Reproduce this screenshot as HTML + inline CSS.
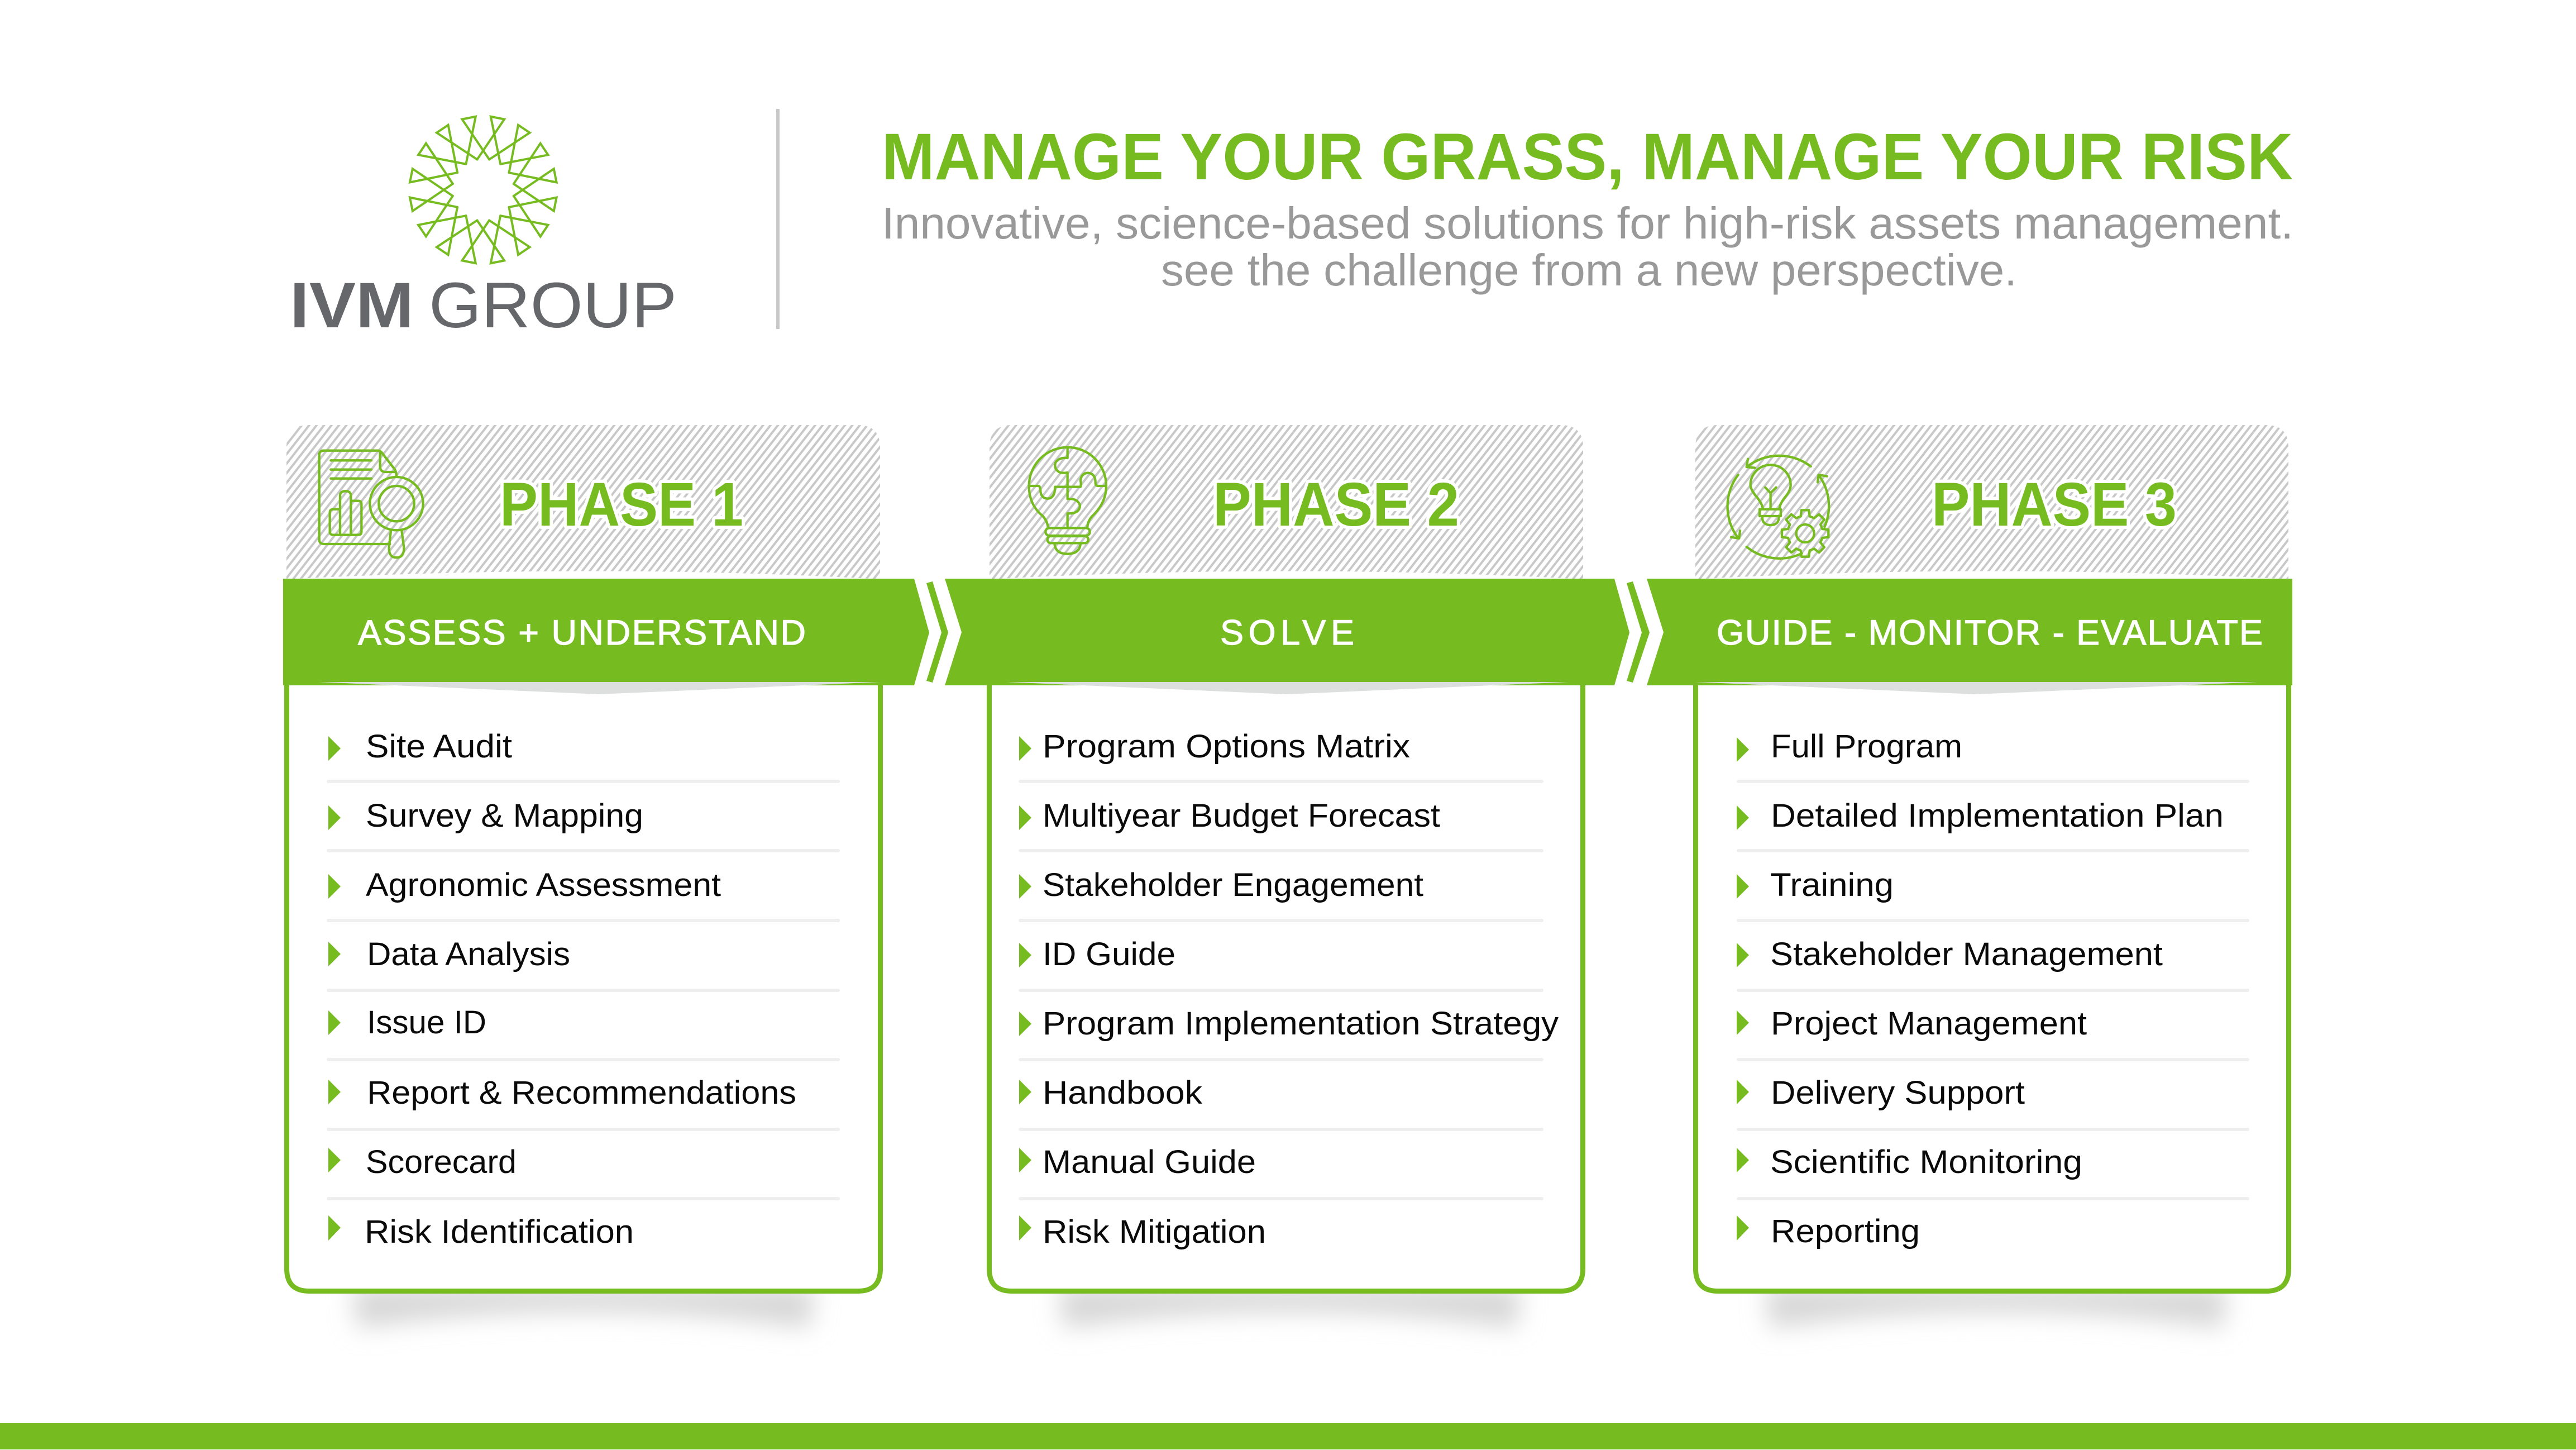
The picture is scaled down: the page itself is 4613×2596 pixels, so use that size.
<!DOCTYPE html>
<html lang="en"><head><meta charset="utf-8"><title>IVM Group</title>
<style>
html,body{margin:0;padding:0;background:#fff}
svg{display:block}
text{font-family:"Liberation Sans",sans-serif}
.row{font-size:58.5px;fill:#0a0a0a}
.ban{font-size:63px;fill:#fff;stroke:#fff;stroke-width:1.2px}
.ph{font-size:110px;font-weight:700;fill:#76bb20;stroke:#fff;stroke-width:12px;paint-order:stroke;stroke-linejoin:round}
.sub{font-size:80px;fill:#999}
.b{fill:#76bb20}
.d{fill:#efefef}
.ic{fill:none;stroke:#76bb20;stroke-width:13;stroke-linecap:round;stroke-linejoin:round}
</style></head><body>
<svg xmlns="http://www.w3.org/2000/svg" width="4613" height="2596" viewBox="0 0 4613 2596">
<defs>
<pattern id="h" patternUnits="userSpaceOnUse" width="10.5" height="10.5" patternTransform="rotate(38)"><rect width="10.5" height="10.5" fill="#fff"/><rect width="4" height="10.5" fill="#c8c8c8"/></pattern>
<filter id="bl" x="-20%" y="-100%" width="140%" height="300%"><feGaussianBlur stdDeviation="22"/></filter>
</defs>
<rect width="4613" height="2596" fill="#fff"/>

<!-- logo -->
<g transform="translate(865.3 340)" fill="none" stroke="#76bb20" stroke-width="4" stroke-linejoin="miter" stroke-linecap="round">
<path d="M-10.8,-54.5L37.8,-126.5L13.5,-131.3L30.9,-46.2"/>
<path transform="rotate(22.5)" d="M-10.8,-54.5L37.8,-126.5L13.5,-131.3L30.9,-46.2"/>
<path transform="rotate(45)" d="M-10.8,-54.5L37.8,-126.5L13.5,-131.3L30.9,-46.2"/>
<path transform="rotate(67.5)" d="M-10.8,-54.5L37.8,-126.5L13.5,-131.3L30.9,-46.2"/>
<path transform="rotate(90)" d="M-10.8,-54.5L37.8,-126.5L13.5,-131.3L30.9,-46.2"/>
<path transform="rotate(112.5)" d="M-10.8,-54.5L37.8,-126.5L13.5,-131.3L30.9,-46.2"/>
<path transform="rotate(135)" d="M-10.8,-54.5L37.8,-126.5L13.5,-131.3L30.9,-46.2"/>
<path transform="rotate(157.5)" d="M-10.8,-54.5L37.8,-126.5L13.5,-131.3L30.9,-46.2"/>
<path transform="rotate(180)" d="M-10.8,-54.5L37.8,-126.5L13.5,-131.3L30.9,-46.2"/>
<path transform="rotate(202.5)" d="M-10.8,-54.5L37.8,-126.5L13.5,-131.3L30.9,-46.2"/>
<path transform="rotate(225)" d="M-10.8,-54.5L37.8,-126.5L13.5,-131.3L30.9,-46.2"/>
<path transform="rotate(247.5)" d="M-10.8,-54.5L37.8,-126.5L13.5,-131.3L30.9,-46.2"/>
<path transform="rotate(270)" d="M-10.8,-54.5L37.8,-126.5L13.5,-131.3L30.9,-46.2"/>
<path transform="rotate(292.5)" d="M-10.8,-54.5L37.8,-126.5L13.5,-131.3L30.9,-46.2"/>
<path transform="rotate(315)" d="M-10.8,-54.5L37.8,-126.5L13.5,-131.3L30.9,-46.2"/>
<path transform="rotate(337.5)" d="M-10.8,-54.5L37.8,-126.5L13.5,-131.3L30.9,-46.2"/>
</g>
<text x="519" y="586" font-size="115" font-weight="700" fill="#66676b" textLength="222" lengthAdjust="spacingAndGlyphs">IVM</text>
<text x="768" y="586" font-size="115" fill="#66676b" textLength="444" lengthAdjust="spacingAndGlyphs">GROUP</text>
<rect x="1390" y="195" width="6" height="394" fill="#c8c8c8"/>

<!-- header -->
<text x="1579" y="321" font-size="118" font-weight="700" fill="#76bb20" textLength="2527" lengthAdjust="spacingAndGlyphs">MANAGE YOUR GRASS, MANAGE YOUR RISK</text>
<text class="sub" x="1579" y="427" textLength="2528" lengthAdjust="spacingAndGlyphs">Innovative, science-based solutions for high-risk assets management.</text>
<text class="sub" x="2079" y="511" textLength="1533" lengthAdjust="spacingAndGlyphs">see the challenge from a new perspective.</text>

<!-- shadows -->
<g fill="#d6d6d6" filter="url(#bl)">
<path d="M632,2305H1458L1450,2378Q1045,2318 640,2378Z"/>
<path d="M1897,2305H2723L2715,2378Q2310,2318 1905,2378Z"/>
<path d="M3162,2305H3988L3980,2378Q3575,2318 3170,2378Z"/>
</g>

<!-- hatch panels -->
<path d="M513,1040V801Q513,761 553,761H1536Q1576,761 1576,801V1040Z" fill="url(#h)"/>
<path d="M1772,1040V801Q1772,761 1812,761H2795Q2835,761 2835,801V1040Z" fill="url(#h)"/>
<path d="M3036,1040V801Q3036,761 3076,761H4058Q4098,761 4098,801V1040Z" fill="url(#h)"/>
<g fill="#fff">
<path d="M513,1037Q1073,1008 1576,1037Z"/>
<path d="M1772,1037Q2305,1008 2835,1037Z"/>
<path d="M3036,1037Q3560,1008 4098,1037Z"/>
</g>

<!-- cards -->
<g fill="#fff" stroke="#76bb20" stroke-width="9">
<path d="M513.5,1220V2271.5Q513.5,2311.5 553.5,2311.5H1536.5Q1576.5,2311.5 1576.5,2271.5V1220"/>
<path d="M1771.5,1220V2271.5Q1771.5,2311.5 1811.5,2311.5H2794.5Q2834.5,2311.5 2834.5,2271.5V1220"/>
<path d="M3036.5,1220V2271.5Q3036.5,2311.5 3076.5,2311.5H4058.5Q4098.5,2311.5 4098.5,2271.5V1220"/>
</g>

<!-- banners -->
<g fill="#76bb20">
<path d="M507,1036H1637L1664,1132.5L1637,1227H507Z"/>
<path d="M1659,1044L1670,1041L1698,1132.5L1670,1222L1659,1219L1686,1132.5Z"/>
<path d="M1692,1036H2891L2918,1132.5L2891,1227H1692L1722,1132Z"/>
<path d="M2913,1044L2924,1041L2954,1132.5L2924,1222L2913,1219L2940,1132.5Z"/>
<path d="M2949,1036H4105V1227H2949L2979,1132Z"/>
</g>
<g fill="#dddfde">
<path d="M570,1221H1576L1073,1243Z"/>
<path d="M1802,1221H2808L2305,1243Z"/>
<path d="M3036,1221H4043L3538,1243Z"/>
</g>
<text class="ban" x="641" y="1154" textLength="802">ASSESS + UNDERSTAND</text>
<text class="ban" x="2185" y="1154" textLength="240">SOLVE</text>
<text class="ban" x="3074" y="1154" textLength="978">GUIDE - MONITOR - EVALUATE</text>

<!-- phase titles -->
<text class="ph" x="895" y="941" textLength="436" lengthAdjust="spacingAndGlyphs">PHASE 1</text>
<text class="ph" x="2172" y="941" textLength="441" lengthAdjust="spacingAndGlyphs">PHASE 2</text>
<text class="ph" x="3459" y="941" textLength="439" lengthAdjust="spacingAndGlyphs">PHASE 3</text>

<!-- icon 1 -->
<g class="ic" transform="translate(560 800) scale(.3333)">
<path d="M415,522H60Q35,522 35,497V45Q35,20 60,20H350Q362,20 372,32L440,120Q450,135 450,160"/>
<path d="M362,25V105Q362,135 392,135H445"/>
<path d="M97,73H315M97,122H315M97,170H315"/>
<path d="M145,335H110Q92,335 92,353V455Q92,473 110,473H245Q262,473 262,455V308Q262,290 245,290H205V262Q205,238 176,238Q147,238 147,262V473M205,290V473"/>
<circle cx="450" cy="305" r="143"/><circle cx="450" cy="305" r="95"/>
<path d="M420,450L410,540Q408,595 450,595Q492,595 490,540L478,450"/>
</g>
<!-- icon 2 -->
<g class="ic" transform="translate(1750 760) scale(.3333)">
<path d="M380,550Q375,515 350,490Q278,430 278,330A207,207 0 1 1 693,330Q693,420 620,490Q595,515 592,550"/>
<path d="M485,125V180Q440,175 420,205Q410,240 445,258Q470,262 485,258V400Q540,395 552,435Q550,480 485,478V550"/>
<path d="M282,330H330Q340,335 340,360Q345,398 380,398Q418,395 418,335H555Q560,325 555,300Q560,260 597,260Q635,265 635,310Q635,330 650,330H690"/>
<rect x="367" y="556" width="238" height="41" rx="20"/><rect x="377" y="600" width="220" height="37" rx="18"/>
<path d="M415,640Q420,695 485,695Q550,695 555,640"/>
</g>
<!-- icon 3 -->
<g class="ic" transform="translate(3090 800) scale(.3333)">
<path d="M458,105A280,280 0 0 0 118,105M120,65L113,108L158,113"/>
<path d="M532,430A280,280 0 0 0 503,155M495,190L500,150L545,158"/>
<path d="M68,150A280,280 0 0 0 68,490M30,485L73,492L78,450"/>
<path d="M113,537A280,280 0 0 0 410,572"/>
<path d="M200,330Q195,300 160,260Q134,225 134,205A108,108 0 1 1 350,205Q350,235 320,270Q293,305 290,330"/>
<rect x="183" y="335" width="114" height="37"/>
<path d="M197,375Q197,420 242,420Q287,420 287,375"/>
<path d="M213,218L242,248L272,218M242,248V325"/>
<g transform="translate(428 465)">
<circle r="48"/>
<path d="M-24,-92L-20,-125H20L24,-92L48,-82"/>
<path transform="rotate(45)" d="M-24,-92L-20,-125H20L24,-92L48,-82"/>
<path transform="rotate(90)" d="M-24,-92L-20,-125H20L24,-92L48,-82"/>
<path transform="rotate(135)" d="M-24,-92L-20,-125H20L24,-92L48,-82"/>
<path transform="rotate(180)" d="M-24,-92L-20,-125H20L24,-92L48,-82"/>
<path transform="rotate(225)" d="M-24,-92L-20,-125H20L24,-92L48,-82"/>
<path transform="rotate(270)" d="M-24,-92L-20,-125H20L24,-92L48,-82"/>
<path transform="rotate(315)" d="M-24,-92L-20,-125H20L24,-92L48,-82"/>
</g>
</g>

<!-- dividers -->
<g class="d">
<rect x="585" y="1396" width="919" height="6" rx="3"/><rect x="585" y="1520" width="919" height="6" rx="3"/><rect x="585" y="1645" width="919" height="6" rx="3"/><rect x="585" y="1770" width="919" height="6" rx="3"/><rect x="585" y="1894" width="919" height="6" rx="3"/><rect x="585" y="2019" width="919" height="6" rx="3"/><rect x="585" y="2143" width="919" height="6" rx="3"/>
<rect x="1824" y="1396" width="940" height="6" rx="3"/><rect x="1824" y="1520" width="940" height="6" rx="3"/><rect x="1824" y="1645" width="940" height="6" rx="3"/><rect x="1824" y="1770" width="940" height="6" rx="3"/><rect x="1824" y="1894" width="940" height="6" rx="3"/><rect x="1824" y="2019" width="940" height="6" rx="3"/><rect x="1824" y="2143" width="940" height="6" rx="3"/>
<rect x="3110" y="1396" width="918" height="6" rx="3"/><rect x="3110" y="1520" width="918" height="6" rx="3"/><rect x="3110" y="1645" width="918" height="6" rx="3"/><rect x="3110" y="1770" width="918" height="6" rx="3"/><rect x="3110" y="1894" width="918" height="6" rx="3"/><rect x="3110" y="2019" width="918" height="6" rx="3"/><rect x="3110" y="2143" width="918" height="6" rx="3"/>
</g>

<!-- bullets -->
<g class="b">
<path d="M588,1318L610,1340L588,1362Z"/><path d="M588,1442L610,1464L588,1486Z"/><path d="M588,1565L610,1587L588,1609Z"/><path d="M588,1686L610,1708L588,1730Z"/><path d="M588,1809L610,1831L588,1853Z"/><path d="M588,1933L610,1955L588,1977Z"/><path d="M588,2055L610,2077L588,2099Z"/><path d="M588,2176L610,2198L588,2221Z"/>
<path d="M1825,1318L1847,1340L1825,1362Z"/><path d="M1825,1442L1847,1464L1825,1486Z"/><path d="M1825,1565L1847,1587L1825,1609Z"/><path d="M1825,1688L1847,1710L1825,1732Z"/><path d="M1825,1811L1847,1833L1825,1855Z"/><path d="M1825,1933L1847,1955L1825,1977Z"/><path d="M1825,2055L1847,2077L1825,2099Z"/><path d="M1825,2176L1847,2198L1825,2221Z"/>
<path d="M3110,1320L3132,1342L3110,1364Z"/><path d="M3110,1442L3132,1464L3110,1486Z"/><path d="M3110,1565L3132,1587L3110,1609Z"/><path d="M3110,1688L3132,1710L3110,1732Z"/><path d="M3110,1809L3132,1831L3110,1853Z"/><path d="M3110,1933L3132,1955L3110,1977Z"/><path d="M3110,2055L3132,2077L3110,2099Z"/><path d="M3110,2176L3132,2198L3110,2221Z"/>
</g>

<!-- lists -->
<g class="row">
<text x="655" y="1356" textLength="262" lengthAdjust="spacingAndGlyphs">Site Audit</text>
<text x="655" y="1480" textLength="497" lengthAdjust="spacingAndGlyphs">Survey &amp; Mapping</text>
<text x="655" y="1604" textLength="636" lengthAdjust="spacingAndGlyphs">Agronomic Assessment</text>
<text x="657" y="1728" textLength="364" lengthAdjust="spacingAndGlyphs">Data Analysis</text>
<text x="657" y="1850" textLength="214" lengthAdjust="spacingAndGlyphs">Issue ID</text>
<text x="657" y="1976" textLength="769" lengthAdjust="spacingAndGlyphs">Report &amp; Recommendations</text>
<text x="655" y="2100" textLength="270" lengthAdjust="spacingAndGlyphs">Scorecard</text>
<text x="653" y="2225" textLength="482" lengthAdjust="spacingAndGlyphs">Risk Identification</text>

<text x="1867" y="1356" textLength="658" lengthAdjust="spacingAndGlyphs">Program Options Matrix</text>
<text x="1867" y="1480" textLength="712" lengthAdjust="spacingAndGlyphs">Multiyear Budget Forecast</text>
<text x="1867" y="1604" textLength="682" lengthAdjust="spacingAndGlyphs">Stakeholder Engagement</text>
<text x="1867" y="1728" textLength="238" lengthAdjust="spacingAndGlyphs">ID Guide</text>
<text x="1867" y="1852" textLength="924" lengthAdjust="spacingAndGlyphs">Program Implementation Strategy</text>
<text x="1867" y="1976" textLength="286" lengthAdjust="spacingAndGlyphs">Handbook</text>
<text x="1867" y="2100" textLength="382" lengthAdjust="spacingAndGlyphs">Manual Guide</text>
<text x="1867" y="2225" textLength="400" lengthAdjust="spacingAndGlyphs">Risk Mitigation</text>

<text x="3171" y="1356" textLength="343" lengthAdjust="spacingAndGlyphs">Full Program</text>
<text x="3171" y="1480" textLength="811" lengthAdjust="spacingAndGlyphs">Detailed Implementation Plan</text>
<text x="3170" y="1604" textLength="221" lengthAdjust="spacingAndGlyphs">Training</text>
<text x="3170" y="1728" textLength="703" lengthAdjust="spacingAndGlyphs">Stakeholder Management</text>
<text x="3171" y="1852" textLength="566" lengthAdjust="spacingAndGlyphs">Project Management</text>
<text x="3171" y="1976" textLength="455" lengthAdjust="spacingAndGlyphs">Delivery Support</text>
<text x="3170" y="2100" textLength="559" lengthAdjust="spacingAndGlyphs">Scientific Monitoring</text>
<text x="3171" y="2224" textLength="267" lengthAdjust="spacingAndGlyphs">Reporting</text>
</g>

<rect x="0" y="2548" width="4613" height="47" fill="#76bb20"/>
</svg>
</body></html>
